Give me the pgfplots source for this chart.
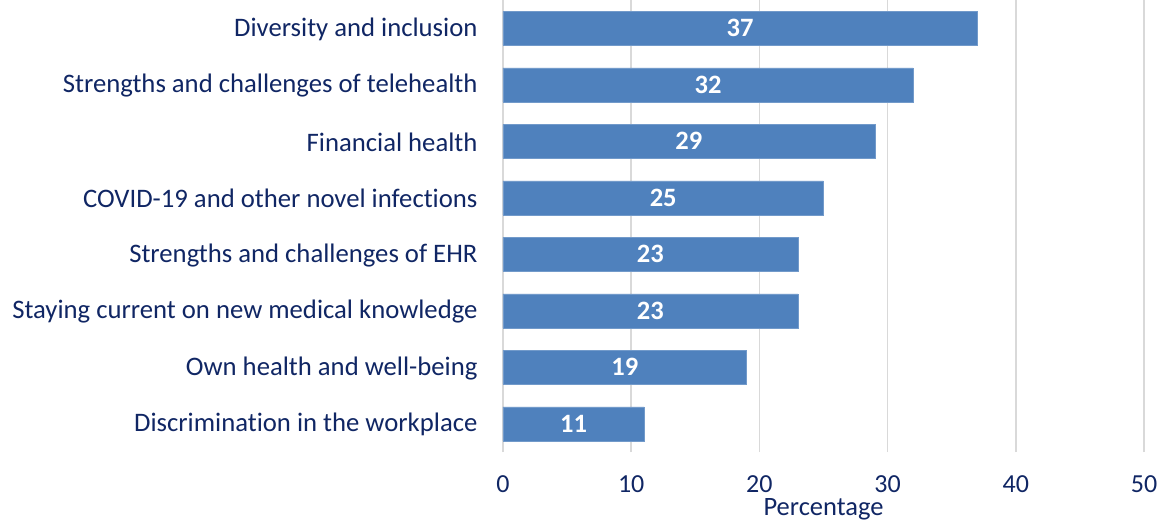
\documentclass[border=0pt]{standalone}
\usepackage{pgfplots}
\pgfplotsset{compat=1.18}
\usepackage{fontspec}
\setmainfont{Carlito}[Ligatures=NoCommon]
\definecolor{barblue}{RGB}{79,129,189}
\definecolor{navy}{RGB}{16,38,100}
\definecolor{gridgray}{RGB}{217,217,217}
\begin{document}
\begin{tikzpicture}
\useasboundingbox (-503bp,-70bp) rectangle (663bp,452bp);
\begin{axis}[
  at={(0,0)}, anchor=south west,
  scale only axis, width=641bp, height=452bp,
  xbar, bar width=34bp,
  xmin=0, xmax=50, ymin=-0.5, ymax=7.5,
  xtick={0,10,...,50}, ytick={0,...,7},
  yticklabels={Discrimination in the workplace,Own health and well-being,Staying current on new medical knowledge,Strengths and challenges of EHR,COVID-19 and other novel infections,Financial health,Strengths and challenges of telehealth,Diversity and inclusion},
  axis line style={draw=none}, major tick length=0pt,
  xmajorgrids, grid style={gridgray, line width=1.5bp},
  /pgf/number format/assume math mode=true,
  tick label style={font=\fontsize{26.7bp}{30bp}\selectfont, text=navy},
  yticklabel style={anchor=east, xshift=-22bp, yshift=-1bp},
  xticklabel style={font=\fontsize{26bp}{30bp}\selectfont, anchor=base, yshift=-40bp},
  xlabel={Percentage},
  xlabel style={font=\fontsize{26.5bp}{30bp}\selectfont, text=navy, anchor=base, at={(axis description cs:0.5,0)}, yshift=-63bp},
  visualization depends on={x \as \rawx},
  nodes near coords,
  point meta=x,
  every node near coord/.append style={font=\bfseries\fontsize{26.5bp}{30bp}\selectfont, text=white, anchor=center, shift={(axis direction cs:-\rawx/2,0)}},
  clip=false,
]
\addplot[fill=barblue, draw=barblue!80!white, line width=0.5bp] coordinates {
(11,0) (19,1) (23,2) (23,3) (25,4) (29,5) (32,6) (37,7)
};
\end{axis}
\end{tikzpicture}
\end{document}
